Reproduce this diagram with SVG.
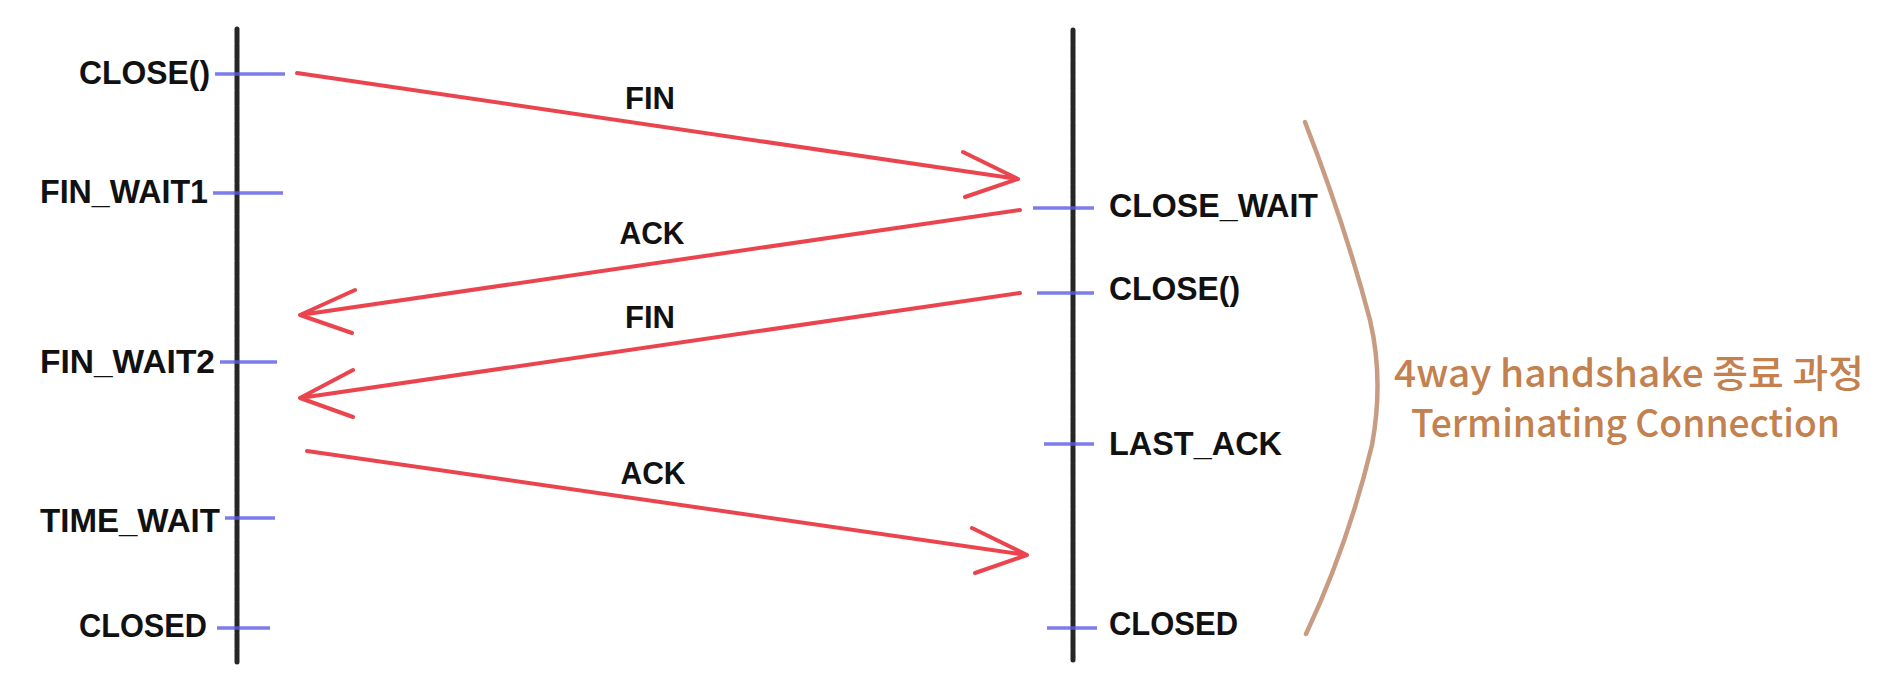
<svg xmlns="http://www.w3.org/2000/svg" width="1888" height="692" viewBox="0 0 1888 692">
<style>
  .life { stroke: #262626; stroke-width: 5; fill: none; stroke-linecap: round; stroke-dasharray: 14 1.5; }
  .tick { stroke: #5b5be8; stroke-width: 3.5; stroke-opacity: 0.8; fill: none; }
  .arrow { stroke: #e8353f; stroke-width: 4; fill: none; stroke-linecap: round; stroke-linejoin: round; stroke-opacity: 0.92; }
  .state { font-family: "Liberation Sans", "Noto Sans", sans-serif; font-weight: bold; font-size: 34px; fill: #111; }
  .msg { font-family: "Liberation Sans", "Noto Sans", sans-serif; font-weight: bold; font-size: 32px; fill: #111; text-anchor: middle; }
  .brace { stroke: #c89c82; stroke-width: 4.5; fill: none; stroke-linecap: round; }
  .note { font-family: "Noto Sans CJK KR", "Noto Sans", sans-serif; font-weight: 500; font-size: 38px; fill: #c2814f; }
</style>
<rect width="1888" height="692" fill="#ffffff"/>

<g id="client">
  <line class="life" x1="237" y1="29" x2="237" y2="662"/>
</g>
<g id="server">
  <line class="life" x1="1073" y1="30" x2="1073" y2="660"/>
</g>

<g id="client-close">
  <line class="tick" x1="215" y1="74" x2="285" y2="74"/>
  <text class="state" x="79" y="84" textLength="131" lengthAdjust="spacingAndGlyphs">CLOSE()</text>
</g>
<g id="client-fin-wait1">
  <line class="tick" x1="213" y1="193" x2="283" y2="193"/>
  <text class="state" x="40" y="203" textLength="168" lengthAdjust="spacingAndGlyphs">FIN_WAIT1</text>
</g>
<g id="client-fin-wait2">
  <line class="tick" x1="220" y1="362" x2="277" y2="362"/>
  <text class="state" x="40" y="373" textLength="175" lengthAdjust="spacingAndGlyphs">FIN_WAIT2</text>
</g>
<g id="client-time-wait">
  <line class="tick" x1="225" y1="518" x2="275" y2="518"/>
  <text class="state" x="40" y="532" textLength="180" lengthAdjust="spacingAndGlyphs">TIME_WAIT</text>
</g>
<g id="client-closed">
  <line class="tick" x1="217" y1="628" x2="270" y2="628"/>
  <text class="state" x="79" y="637" textLength="128" lengthAdjust="spacingAndGlyphs">CLOSED</text>
</g>

<g id="server-close-wait">
  <line class="tick" x1="1033" y1="208" x2="1094" y2="208"/>
  <text class="state" x="1109" y="217" textLength="209" lengthAdjust="spacingAndGlyphs">CLOSE_WAIT</text>
</g>
<g id="server-close">
  <line class="tick" x1="1037" y1="293" x2="1094" y2="293"/>
  <text class="state" x="1109" y="300" textLength="131" lengthAdjust="spacingAndGlyphs">CLOSE()</text>
</g>
<g id="server-last-ack">
  <line class="tick" x1="1044" y1="444" x2="1094" y2="444"/>
  <text class="state" x="1109" y="455" textLength="173" lengthAdjust="spacingAndGlyphs">LAST_ACK</text>
</g>
<g id="server-closed">
  <line class="tick" x1="1047" y1="628" x2="1097" y2="628"/>
  <text class="state" x="1109" y="635" textLength="129" lengthAdjust="spacingAndGlyphs">CLOSED</text>
</g>

<g id="connectors">
  <g id="fin1">
    <path class="arrow" d="M297,73 L1018,179 M963,152 L1018,179 L965,197"/>
    <text class="msg" x="650" y="109" textLength="50" lengthAdjust="spacingAndGlyphs">FIN</text>
  </g>
  <g id="ack1">
    <path class="arrow" d="M1020,210 L300,315 M355,290 L300,315 L352,333"/>
    <text class="msg" x="652" y="244" textLength="65" lengthAdjust="spacingAndGlyphs">ACK</text>
  </g>
  <g id="fin2">
    <path class="arrow" d="M1020,293 L300,398 M353,370 L300,398 L353,417"/>
    <text class="msg" x="650" y="328" textLength="50" lengthAdjust="spacingAndGlyphs">FIN</text>
  </g>
  <g id="ack2">
    <path class="arrow" d="M307,451 L1027,555 M972,528 L1027,555 L975,573"/>
    <text class="msg" x="653" y="484" textLength="65" lengthAdjust="spacingAndGlyphs">ACK</text>
  </g>
</g>

<g id="summary">
  <path class="brace" d="M1305,122 Q1345,225 1370,320 Q1384,380 1372,445 Q1348,545 1306,634"/>
  <text class="note" x="1394" y="387" textLength="470" lengthAdjust="spacingAndGlyphs">4way handshake 종료 과정</text>
  <text class="note" x="1411" y="437" textLength="429" lengthAdjust="spacingAndGlyphs">Terminating Connection</text>
</g>
</svg>
